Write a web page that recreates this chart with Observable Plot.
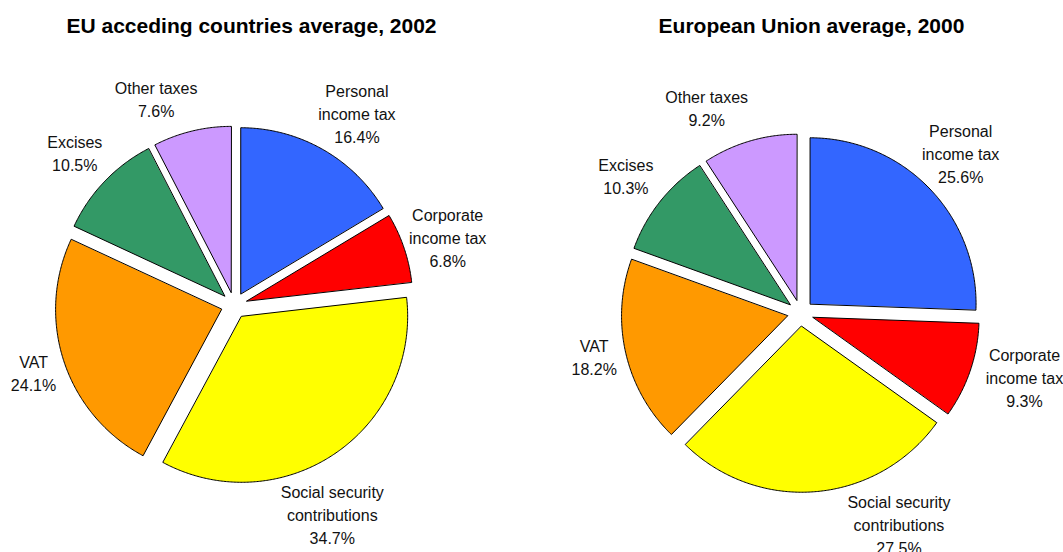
<!DOCTYPE html>
<html>
<head>
<meta charset="utf-8">
<script src="https://cdn.jsdelivr.net/npm/d3@7"></script>
<script src="https://cdn.jsdelivr.net/npm/@observablehq/plot@0.6"></script>
<style>
  html, body { margin: 0; padding: 0; background: #fff; overflow: hidden; }
  #row { display: flex; width: 1063px; height: 552px; overflow: hidden; }
  #row > * { flex: none; }
</style>
</head>
<body>
<div id="row"></div>
<script>
// ---- data ----
const categories = ["Personal\nincome tax", "Corporate\nincome tax", "Social security\ncontributions", "VAT", "Excises", "Other taxes"];
const titles = ["EU acceding countries average, 2002", "European Union average, 2000"];
const acceding2002 = [16.4, 6.8, 34.7, 24.1, 10.5, 7.6];
const eu2000 = [25.6, 9.3, 27.5, 18.2, 10.3, 9.2];

// ---- styles / layout ----
const colors = ["#3366FF", "#FF0000", "#FFFF00", "#FF9900", "#339966", "#CC99FF"];
const FONT_FAMILY = "'Liberation Sans', Arial, sans-serif";
const R = 166;            // pie radius in px
const EXPLODE = 0.08;     // explosion distance (fraction of radius)
const LABEL_R = 1.13;     // label inner edge distance (fraction of radius)
const FONT = 16, LINE = 23;
// shift: label angle nudge (degrees); push: label radial nudge (px)
const charts = [
  {values: acceding2002, title: titles[0], width: 502, gapBefore: 0, cx: 233.7, cy: 304.8,
   shift: [3, 1, 9, 0, 0, -7], push: [0, -4, 5, 0, 0, 9]},
  {values: eu2000, title: titles[1], width: 508, gapBefore: 55, cx: 243, cy: 312.5,
   shift: [-1, -3, -20, 1, 0, -8], push: [-10, 5, 7, 0, 0, 13]}
];

const ctx = document.createElement("canvas").getContext("2d");
ctx.font = `${FONT}px 'Liberation Sans'`;

function slicesFor(values, shift, push) {
  const total = d3.sum(values);
  let acc = 0;
  return values.map((v, i) => {
    const a0 = acc / total * 2 * Math.PI; acc += v;
    const a1 = acc / total * 2 * Math.PI;
    const m = (a0 + a1) / 2;
    const ox = EXPLODE * Math.sin(m), oy = EXPLODE * Math.cos(m);
    const n = Math.max(2, Math.ceil((a1 - a0) / (Math.PI / 360)));
    const pts = [{x: ox, y: oy}];
    for (let k = 0; k <= n; k++) {
      const a = a0 + (a1 - a0) * k / n;
      pts.push({x: ox + Math.sin(a), y: oy + Math.cos(a)});
    }
    const label = categories[i] + "\n" + v.toFixed(1) + "%";
    const lines = label.split("\n");
    const w = d3.max(lines, t => ctx.measureText(t).width) / R;
    const h = lines.length * LINE / R;
    const la = m + shift[i] * Math.PI / 180;
    const s = Math.abs(Math.sin(la)), c = Math.abs(Math.cos(la));
    const t = Math.min(s > 1e-6 ? (w / 2) / s : Infinity, c > 1e-6 ? (h / 2) / c : Infinity);
    const dist = LABEL_R + t + push[i] / R;
    return {pts, label, lx: dist * Math.sin(la), ly: dist * Math.cos(la)};
  });
}

const row = document.getElementById("row");
for (const ch of charts) {
  const H = 552;
  const slices = slicesFor(ch.values, ch.shift, ch.push);
  const plot = Plot.plot({
    width: ch.width,
    height: H,
    margin: 0,
    x: {domain: [-ch.cx / R, (ch.width - ch.cx) / R], axis: null},
    y: {domain: [-(H - ch.cy) / R, ch.cy / R], axis: null},
    style: {fontFamily: FONT_FAMILY, background: "#fff", overflow: "visible"},
    marks: [
      ...slices.map((s, i) => Plot.line(s.pts, {
        x: "x", y: "y", curve: "linear-closed",
        fill: colors[i], stroke: "#000", strokeWidth: 1, strokeLinejoin: "miter"
      })),
      Plot.text(slices, {
        x: "lx", y: "ly", text: "label",
        fontSize: FONT, lineHeight: LINE / FONT, lineAnchor: "middle",
        textAnchor: "middle", fill: "#111"
      }),
      Plot.text([ch.title], {
        frameAnchor: "top", dy: 26, lineAnchor: "middle",
        fontSize: 21, fontWeight: "bold", fill: "#000"
      })
    ]
  });
  plot.style.marginLeft = ch.gapBefore + "px";
  row.appendChild(plot);
}
</script>
</body>
</html>
